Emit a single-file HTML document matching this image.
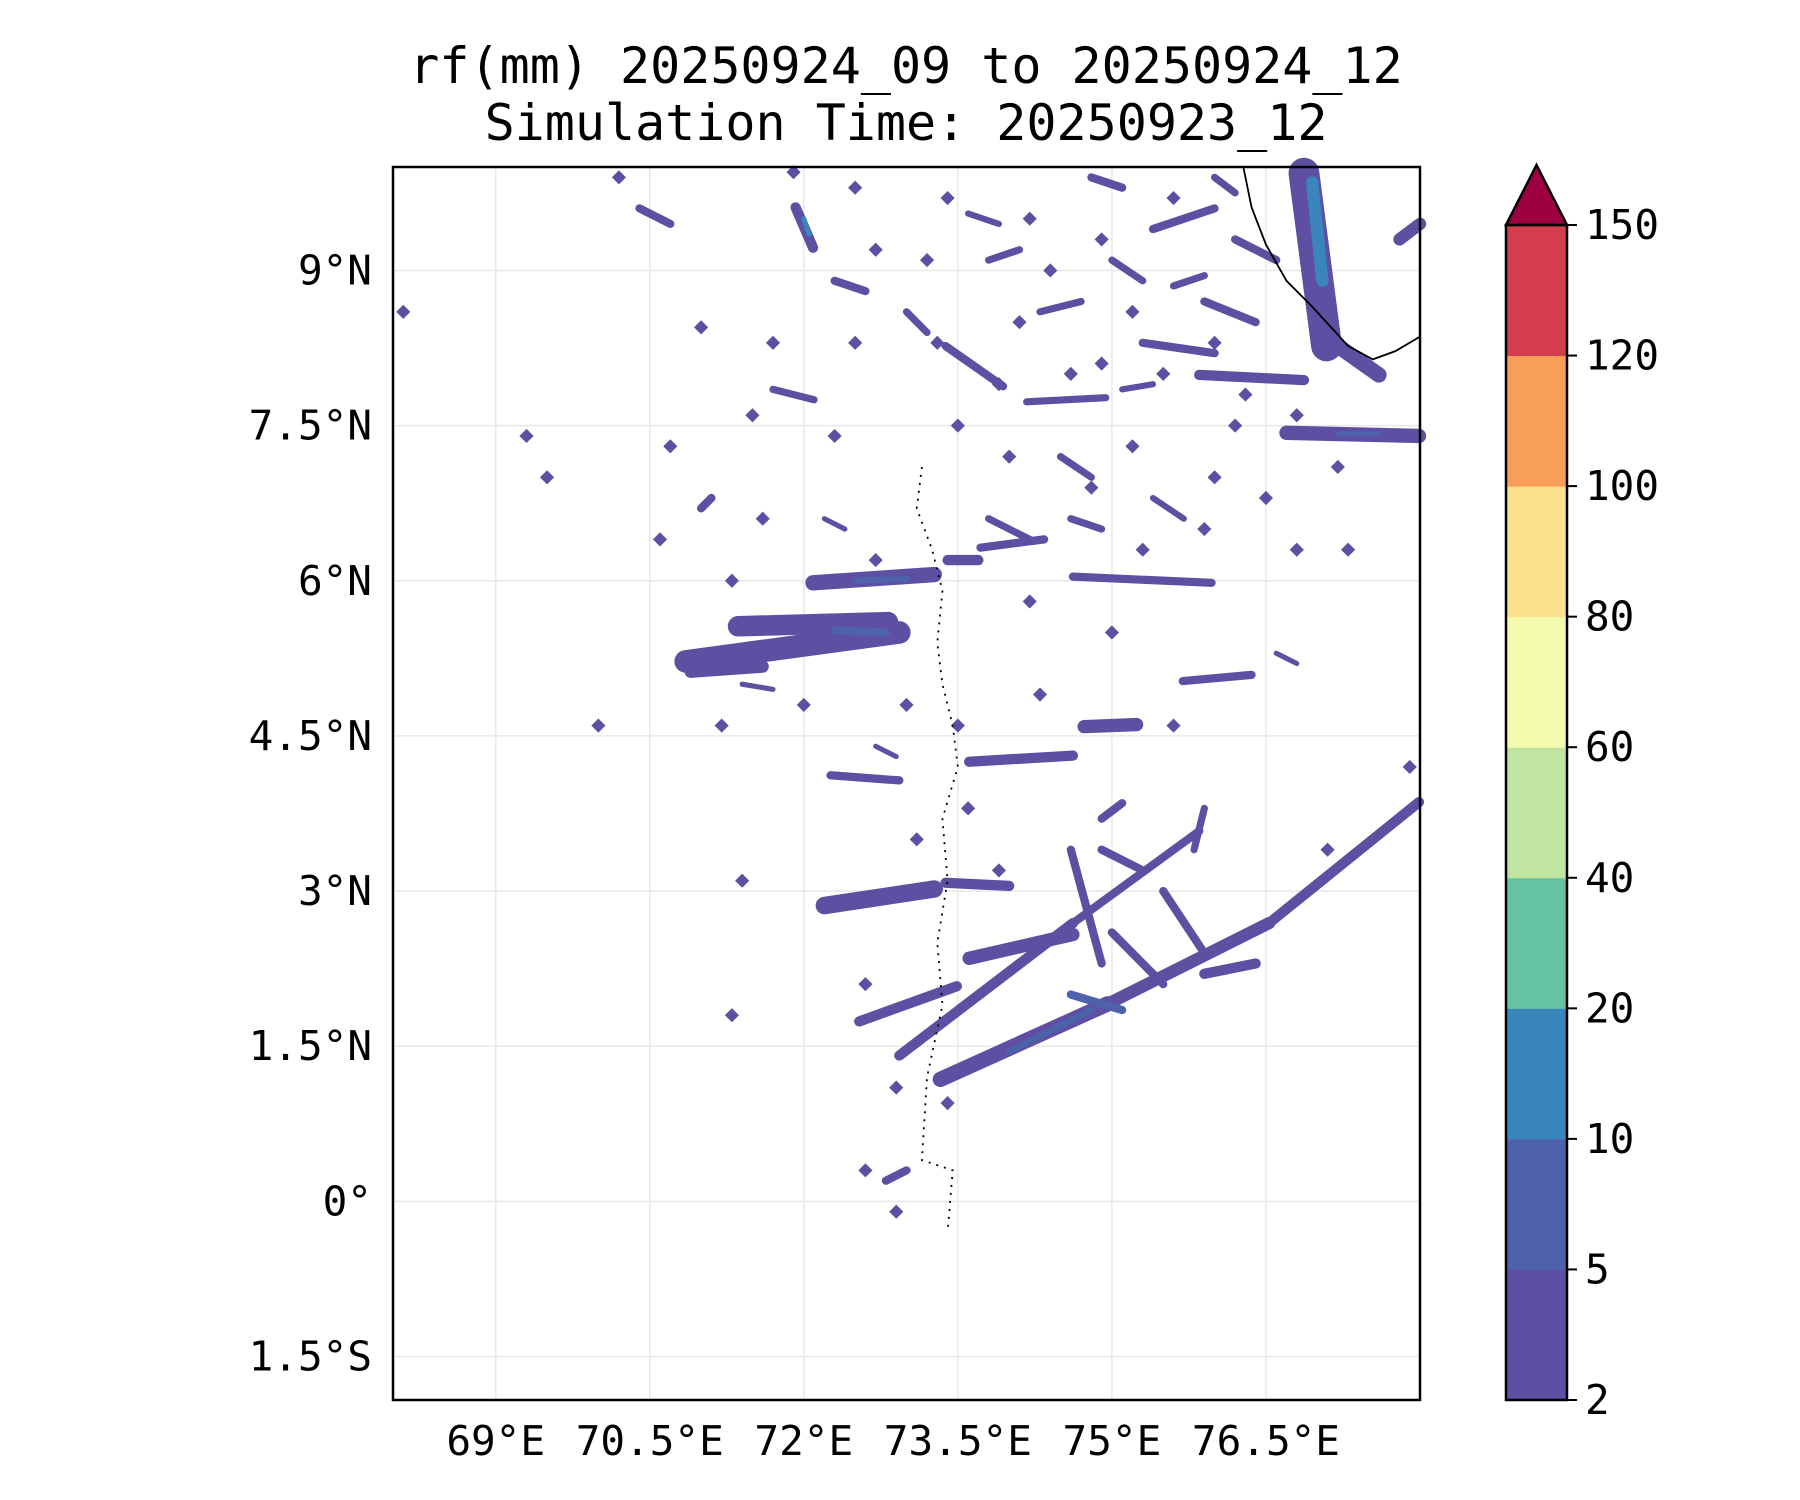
<!DOCTYPE html>
<html><head><meta charset="utf-8"><style>
html,body{margin:0;padding:0;background:#fff}
svg{display:block}
text{font-family:"DejaVu Sans Mono","Liberation Mono",monospace;fill:#000}
</style></head><body>
<svg id="chart" width="1800" height="1500" viewBox="0 0 1800 1500" xmlns="http://www.w3.org/2000/svg">
<text x="906" y="83" font-size="50" text-anchor="middle">rf(mm) 20250924_09 to 20250924_12</text>
<text x="906" y="140" font-size="50" text-anchor="middle">Simulation Time: 20250923_12</text>
<g id="grid"></g>
<g id="rain"></g>
<g id="coast"></g>
<rect x="393" y="167" width="1027" height="1233" fill="none" stroke="#000" stroke-width="2.5"/>
<g id="axes"></g>
<g id="cbar"></g>
</svg>
<script>
const lonTicks=[69,70.5,72,73.5,75,76.5];
const lonLabels=["69°E","70.5°E","72°E","73.5°E","75°E","76.5°E"];
const latTicks=[9,7.5,6,4.5,3,1.5,0,-1.5];
const latLabels=["9°N","7.5°N","6°N","4.5°N","3°N","1.5°N","0°","1.5°S"];
const cbarLevels=[2,5,10,20,40,60,80,100,120,150];
const cbarColors=["#5e4fa2","#4e62ab","#3a86bc","#66c2a5","#bfe5a0","#f4faae","#fde08b","#f99e59","#d53e4f"];
const extendColor="#9e0142";
// streaks: [lon1,lat1,lon2,lat2,widthDeg,level]
const streaks=[
[70.85,5.22,72.93,5.50,0.22,0],[71.36,5.56,72.82,5.60,0.2,0],[72.3,5.52,72.8,5.5,0.08,1],
[70.9,5.12,71.6,5.17,0.12,0],[72.09,5.98,73.27,6.06,0.15,0],[72.5,6.0,73.0,6.02,0.06,1],
[72.2,2.86,73.27,3.02,0.17,0],[73.38,3.08,74.0,3.05,0.1,0],[72.26,4.12,72.93,4.07,0.08,0],
[73.33,1.18,74.96,1.91,0.15,0],[74.0,1.45,74.8,1.85,0.06,1],[74.96,1.91,76.53,2.69,0.12,0],[76.53,2.69,77.99,3.86,0.1,0],
[72.93,1.41,74.62,2.69,0.1,0],[74.62,2.69,75.85,3.58,0.08,0],[72.54,1.74,73.49,2.08,0.1,0],
[73.61,2.35,74.62,2.58,0.13,0],[74.9,3.4,75.3,3.2,0.08,0],[75.0,2.6,75.5,2.1,0.08,0],[75.5,3.0,75.9,2.4,0.08,0],
[74.6,3.4,74.9,2.3,0.08,0],[75.9,2.2,76.4,2.3,0.1,0],[74.6,2.0,75.1,1.85,0.08,1],
[73.61,4.25,74.62,4.31,0.1,0],[74.73,4.59,75.24,4.61,0.13,0],[75.69,5.03,76.36,5.09,0.08,0],
[73.72,6.32,74.34,6.40,0.08,0],[74.62,6.04,75.97,5.98,0.08,0],[73.4,6.2,73.7,6.2,0.1,0],
[76.87,9.94,77.09,8.27,0.3,0],[76.95,9.85,77.05,8.9,0.12,2],[77.2,8.27,77.6,7.99,0.15,0],
[76.7,7.43,77.99,7.40,0.14,0],[77.2,7.42,77.6,7.42,0.05,1],[75.85,7.99,76.87,7.94,0.1,0],
[75.3,8.3,76.0,8.2,0.08,0],[75.9,8.7,76.4,8.5,0.08,0],[73.38,8.27,73.94,7.88,0.08,0],
[74.17,7.73,74.94,7.77,0.07,0],[71.92,9.61,72.09,9.22,0.1,0],[72.0,9.5,72.05,9.35,0.04,2],
[77.8,9.3,78,9.45,0.12,0],[72.3,8.9,72.6,8.8,0.08,0],[73.0,8.6,73.2,8.4,0.07,0],
[74.3,8.6,74.7,8.7,0.07,0],[75.0,9.1,75.3,8.9,0.07,0],[75.4,9.4,76.0,9.6,0.08,0],
[74.8,9.9,75.1,9.8,0.08,0],[73.8,9.1,74.1,9.2,0.07,0],[74.5,7.2,74.8,7.0,0.07,0],
[75.4,6.8,75.7,6.6,0.06,0],[71.4,5.0,71.7,4.95,0.05,0],[72.7,4.4,72.9,4.3,0.05,0],
[74.9,3.7,75.1,3.85,0.08,0],[75.8,3.4,75.9,3.8,0.07,0],[72.8,0.2,73.0,0.3,0.08,0],
[71.0,6.7,71.1,6.8,0.08,0],[72.2,6.6,72.4,6.5,0.05,0],[73.8,6.6,74.2,6.4,0.07,0],
[74.6,6.6,74.9,6.5,0.07,0],[76.6,5.3,76.8,5.2,0.05,0],[71.7,7.85,72.1,7.75,0.07,0],
[70.4,9.6,70.7,9.45,0.08,0],[76.2,9.3,76.6,9.1,0.08,0],[75.1,7.85,75.4,7.9,0.06,0],
[73.6,9.55,73.9,9.45,0.06,0],[76.0,9.9,76.2,9.75,0.07,0],[75.6,8.85,75.9,8.95,0.07,0]
];
// dots: [lon,lat]
const dots=[[70.2,9.9],[71.9,9.95],[72.5,9.8],[73.4,9.7],[74.2,9.5],[74.9,9.3],[75.6,9.7],[73.2,9.1],[72.7,9.2],[71.0,8.45],[71.7,8.3],[72.5,8.3],[73.3,8.3],[74.1,8.5],[74.9,8.1],[75.5,8.0],[76.3,7.8],[76.8,7.6],[77.2,7.1],[70.7,7.3],[71.5,7.6],[72.3,7.4],[73.5,7.5],[74.0,7.2],[75.2,7.3],[76.0,7.0],[76.5,6.8],[70.6,6.4],[71.6,6.6],[72.7,6.2],[75.3,6.3],[76.8,6.3],[77.3,6.3],[71.3,6.0],[69.5,7.0],[68.1,8.6],[69.3,7.4],[70.0,4.6],[71.2,4.6],[72.0,4.8],[73.0,4.8],[73.5,4.6],[74.3,4.9],[75.6,4.6],[77.9,4.2],[77.1,3.4],[73.1,3.5],[73.9,3.2],[73.6,3.8],[71.4,3.1],[72.6,2.1],[71.3,1.8],[72.9,1.1],[73.4,0.95],[72.6,0.3],[72.9,-0.1],[74.4,9.0],[75.2,8.6],[76.0,8.3],[74.6,8.0],[73.9,7.9],[76.2,7.5],[74.8,6.9],[75.9,6.5],[74.2,5.8],[75.0,5.5]];
const lon0=68,lon1=78,lat0=-1.92,lat1=10;
const X0=393,X1=1420,Y0=167,Y1=1400;
const xs=lon=>X0+(lon-lon0)/(lon1-lon0)*(X1-X0);
const ys=lat=>Y0+(lat1-lat)/(lat1-lat0)*(Y1-Y0);
const pxDeg=(X1-X0)/(lon1-lon0);
const NS="http://www.w3.org/2000/svg";
function mk(tag,attrs,parent){const e=document.createElementNS(NS,tag);for(const k in attrs)e.setAttribute(k,attrs[k]);parent.appendChild(e);return e;}
const grid=document.getElementById('grid'),rain=document.getElementById('rain'),coast=document.getElementById('coast'),axes=document.getElementById('axes'),cbar=document.getElementById('cbar');
lonTicks.forEach((v,i)=>{
 const l=mk('line',{x1:xs(v),x2:xs(v),y1:Y0,y2:Y1,stroke:'#e8e8e8','stroke-width':1.5},grid);
 
 
 const t=mk('text',{x:xs(v),y:1455,'font-size':41,'text-anchor':'middle'},axes);t.textContent=lonLabels[i];
 
 
});
latTicks.forEach((v,i)=>{
 const l=mk('line',{x1:X0,x2:X1,y1:ys(v),y2:ys(v),stroke:'#e8e8e8','stroke-width':1.5},grid);
 
 
 const t=mk('text',{x:372,y:ys(v)+14,'font-size':41,'text-anchor':'end'},axes);t.textContent=latLabels[i];
 
 
});
streaks.forEach(s=>{
 const w=Math.max(s[4]*pxDeg,5);
 const l=mk('line',{x1:xs(s[0]),y1:ys(s[1]),x2:xs(s[2]),y2:ys(s[3]),stroke:cbarColors[s[5]],'stroke-width':w,'stroke-linecap':'round'},rain);
 
 
});
dots.forEach(d=>{
 const c=mk('rect',{x:xs(d[0])-5,y:ys(d[1])-5,width:10,height:10,fill:cbarColors[0],transform:`rotate(45 ${xs(d[0])} ${ys(d[1])})`},rain);
 
 
});
const india=[[76.28,10],[76.36,9.61],[76.5,9.25],[76.7,8.9],[76.95,8.65],[77.3,8.27],[77.54,8.14],[77.76,8.22],[78,8.36]];
const cl=mk('polyline',{points:india.map(p=>xs(p[0])+','+ys(p[1])).join(' '),fill:'none',stroke:'#000','stroke-width':1.8},coast);


const maldives=[[73.15,7.1],[73.1,6.7],[73.25,6.3],[73.35,5.9],[73.3,5.4],[73.35,5.0],[73.45,4.6],[73.5,4.2],[73.35,3.7],[73.4,3.1],[73.3,2.5],[73.35,1.9],[73.2,1.2],[73.15,0.4],[73.45,0.3],[73.4,-0.3]];
const ml=mk('polyline',{points:maldives.map(p=>xs(p[0])+','+ys(p[1])).join(' '),fill:'none',stroke:'#000','stroke-width':1.8,'stroke-dasharray':'2 6'},coast);


// colorbar
const CX=1506,CW=61,CT=225,CB=1400,n=cbarLevels.length-1,h=(CB-CT)/n;
cbarColors.forEach((c,i)=>{
 const r=mk('rect',{x:CX,y:CB-(i+1)*h,width:CW,height:h+0.5,fill:c},cbar);
 
 
});
const tri=mk('polygon',{points:`${CX},${CT} ${CX+CW/2},165 ${CX+CW},${CT}`,fill:extendColor,stroke:'#000','stroke-width':2.5},cbar);


const fr=mk('rect',{x:CX,y:CT,width:CW,height:CB-CT,fill:'none',stroke:'#000','stroke-width':2.5},cbar);


cbarLevels.forEach((v,i)=>{
 const y=CB-i*h;
 mk('line',{x1:CX+CW,x2:CX+CW+10,y1:y,y2:y,stroke:'#000','stroke-width':2},cbar);
 const t=mk('text',{x:CX+CW+18,y:y+14,'font-size':41},cbar);t.textContent=v;
 
 
});
</script>
</body></html>
